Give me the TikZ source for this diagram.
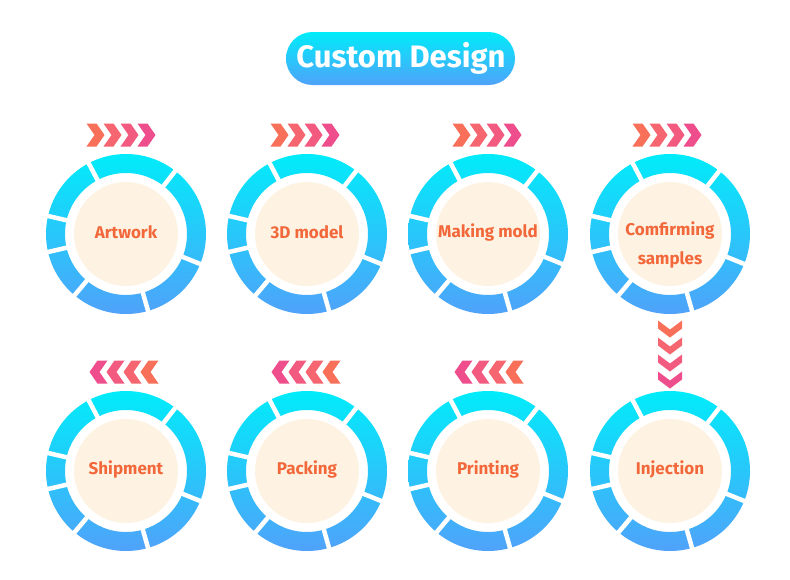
\documentclass[tikz,border=0pt]{standalone}
\usepackage{fontspec}
\setmainfont{Fira Sans}
\definecolor{ringtop}{RGB}{0,236,250}
\definecolor{ringbot}{RGB}{80,162,250}
\definecolor{cream}{RGB}{254,243,227}
\definecolor{txtor}{RGB}{242,104,58}
\definecolor{cha}{RGB}{248,112,90}
\definecolor{chb}{RGB}{246,102,112}
\definecolor{chc}{RGB}{242,90,128}
\definecolor{chd}{RGB}{238,78,140}
\tikzset{
  chevr/.pic={\fill (-9,-11.5) -- (1,-11.5) -- (9,0) -- (1,11.5) -- (-9,11.5) -- (-1,0) -- cycle;},
  chevl/.pic={\fill (9,-11.5) -- (-1,-11.5) -- (-9,0) -- (-1,11.5) -- (9,11.5) -- (1,0) -- cycle;},
  chevd/.pic={\fill (-12,-8.5) -- (0,0.5) -- (12,-8.5) -- (12,-0.5) -- (0,8.5) -- (-12,-0.5) -- cycle;},
  lbl/.style={font=\bfseries\fontsize{17}{29}\selectfont, text=txtor, align=center},
}
\newcommand\stepring[3]{%
  \shade[top color=ringtop, bottom color=ringbot, even odd rule]
    (#1,#2) circle (80) (#1,#2) circle (61);
  \foreach \a in {117.8,52,-22,-74,-130,-167,167}
    \draw[white, line width=4.5pt] (#1,#2) ++(-\a:58) -- ++(-\a:25);
  \fill[cream] (#1,#2) circle (52);
  \coordinate (#3) at (#1,#2-2);
}
\begin{document}
\begin{tikzpicture}[x=1pt,y=-1pt]
\useasboundingbox[fill=white] (0,0) rectangle (790,579);
% title
\shade[top color=ringtop, bottom color=ringbot, rounded corners=26.5pt] (286,32) rectangle (515,85);
\node[font=\bfseries\fontsize{31}{34}\selectfont, text=white] (title) at (401,58) {Custom Design};
% rings
\stepring{126}{234}{c1}
\stepring{307}{234}{c2}
\stepring{488}{234}{c3}
\stepring{670}{234}{c4}
\stepring{126}{471}{c5}
\stepring{307}{471}{c6}
\stepring{488}{471}{c7}
\stepring{670}{471}{c8}
\node[lbl] (t1) at (c1) {Artwork};
\node[lbl] (t2) at (c2) {3D model};
\node[lbl] (t3) at (c3) {Making mold};
\node[lbl] (t4) at ([yshift=-13pt]c4) {Comfirming\\samples};
\node[lbl] (t5) at (c5) {Shipment};
\node[lbl] (t6) at (c6) {Packing};
\node[lbl] (t7) at (c7) {Printing};
\node[lbl] (t8) at (c8) {Injection};
% top row chevrons
\foreach \cx in {121,305,487,667}{
  \pic[fill=cha] at (\cx-25.5,135) {chevr};
  \pic[fill=chb] at (\cx-8.5,135) {chevr};
  \pic[fill=chc] at (\cx+8.5,135) {chevr};
  \pic[fill=chd] at (\cx+25.5,135) {chevr};
}
% bottom row chevrons
\foreach \cx in {124,306,489}{
  \pic[fill=chd] at (\cx-25.5,372) {chevl};
  \pic[fill=chc] at (\cx-8.5,372) {chevl};
  \pic[fill=chb] at (\cx+8.5,372) {chevl};
  \pic[fill=cha] at (\cx+25.5,372) {chevl};
}
% vertical chevrons
\pic[fill=cha] at (670,329) {chevd};
\pic[fill=chb] at (670,346) {chevd};
\pic[fill=chc] at (670,363) {chevd};
\pic[fill=chd] at (670,380) {chevd};
\end{tikzpicture}
\end{document}
